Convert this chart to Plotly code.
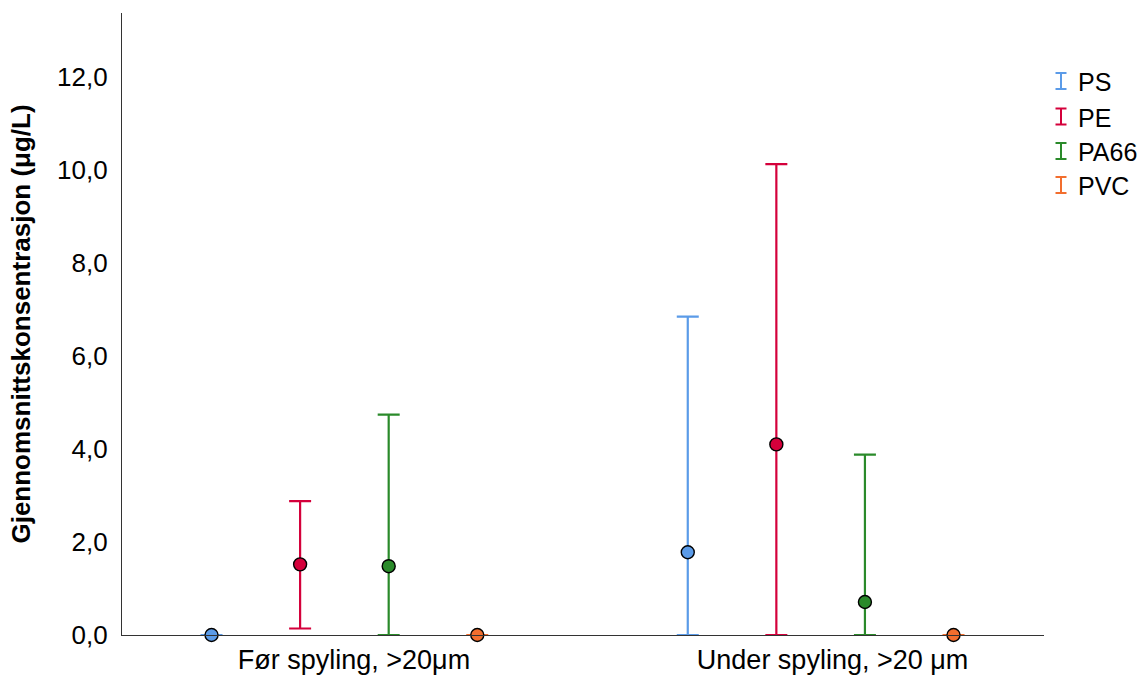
import plotly.graph_objects as go

categories = ["Før spyling, >20μm", "Under spyling, >20 μm"]
series = ["PS", "PE", "PA66", "PVC"]
colors = ["#5B9BE8", "#D4003B", "#2A8A2A", "#F26E2E"]

means = {
    "PS":   [0.0, 1.78],
    "PE":   [1.52, 4.10],
    "PA66": [1.48, 0.71],
    "PVC":  [0.0, 0.0],
}
upper = {
    "PS":   [0.0, 6.85],
    "PE":   [2.88, 10.13],
    "PA66": [4.74, 3.88],
    "PVC":  [0.0, 0.0],
}
lower = {
    "PS":   [0.0, 0.0],
    "PE":   [0.14, 0.0],
    "PA66": [0.0, 0.0],
    "PVC":  [0.0, 0.0],
}

FONT = "Liberation Sans, Arial, sans-serif"
offsets = [-1.5, -0.5, 0.5, 1.5]
step = 0.186

W, H = 1146, 675
ML, MR, MT, MB = 122, 102, 13, 40
PW, PH = W - ML - MR, H - MT - MB

def px(xp):
    return (xp - ML) / PW

def py(yp):
    return (H - MB - yp) / PH

fig = go.Figure()
for s, c, off in zip(series, colors, offsets):
    xs = [i + off * step for i in range(len(categories))]
    m = means[s]
    fig.add_trace(go.Scatter(
        x=xs, y=m, mode="markers", name=s, showlegend=False, cliponaxis=False,
        marker=dict(color=c, size=13, line=dict(color="black", width=1.4)),
        error_y=dict(type="data", symmetric=False,
                     array=[u - v for u, v in zip(upper[s], m)],
                     arrayminus=[v - l for v, l in zip(m, lower[s])],
                     color=c, thickness=2.2, width=11),
    ))

# legend (SPSS style error-bar glyphs)
row_y = [81, 116.5, 151, 185]
gx = 1061
for s, c, ry in zip(series, colors, row_y):
    top, bot = ry - 8, ry + 8
    fig.add_shape(type="line", xref="paper", yref="paper",
                  x0=px(gx), x1=px(gx), y0=py(top), y1=py(bot),
                  line=dict(color=c, width=2))
    for yy in (top, bot):
        fig.add_shape(type="line", xref="paper", yref="paper",
                      x0=px(gx - 5.5), x1=px(gx + 5.5), y0=py(yy), y1=py(yy),
                      line=dict(color=c, width=2))
    fig.add_annotation(xref="paper", yref="paper", x=px(1076), y=py(ry + 1), text=s,
                       showarrow=False, xanchor="left", yanchor="middle",
                       font=dict(family=FONT, size=25, color="black"))

fig.update_layout(
    width=W, height=H,
    margin=dict(l=ML, r=MR, t=MT, b=MB),
    paper_bgcolor="white", plot_bgcolor="white",
    font=dict(family=FONT, color="black"),
)
fig.update_xaxes(
    range=[-0.467, 1.469], tickvals=[0.02, 1.025], ticktext=categories,
    showgrid=False, zeroline=False, showline=True, linecolor="#333333", linewidth=1.2,
    ticks="", tickfont=dict(size=27, family=FONT), ticklabelstandoff=0, automargin=False,
)
fig.update_yaxes(
    range=[0, 13.38], tickvals=[0, 2, 4, 6, 8, 10, 12],
    ticktext=["0,0", "2,0", "4,0", "6,0", "8,0", "10,0", "12,0"],
    showgrid=False, zeroline=False, showline=True, linecolor="#333333", linewidth=1.2,
    ticks="", tickfont=dict(size=26, family=FONT), ticklabelstandoff=8, automargin=False,
    title=dict(text="<b>Gjennomsnittskonsentrasjon (μg/L)</b>", font=dict(size=26, family=FONT), standoff=18),
)

fig.write_html("out.html")
